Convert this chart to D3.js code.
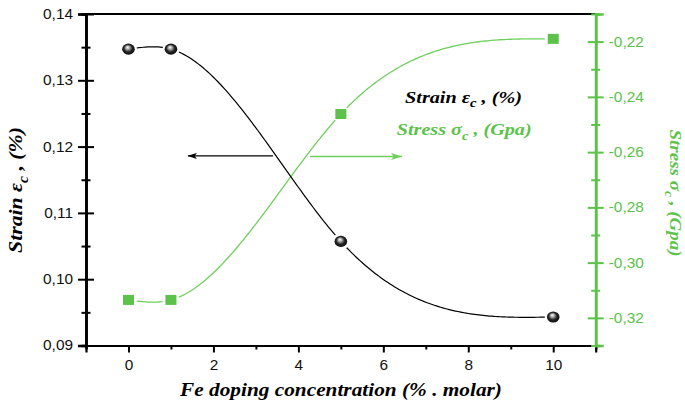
<!DOCTYPE html>
<html>
<head>
<meta charset="utf-8">
<script src="https://cdn.jsdelivr.net/npm/d3@7"></script>
<style>
  html, body { margin: 0; padding: 0; background: #fff; }
  svg { display: block; }
</style>
</head>
<body>
<svg id="chart" width="685" height="403"></svg>
<script>
// Fe doping level (% molar) and the measured strain / stress at each level
const dopingLevels = [0, 1, 5, 10];
const strainValues = [0.1347, 0.1347, 0.1057, 0.0943];
const stressValues = [-0.3135, -0.3135, -0.2462, -0.2190];

// Tick positions
const xMajorTicks = [0, 2, 4, 6, 8, 10];
const xMinorTicks = [-1, 1, 3, 5, 7, 9, 11];
const strainMajorTicks = [0.09, 0.10, 0.11, 0.12, 0.13, 0.14];
const strainMinorTicks = [0.095, 0.105, 0.115, 0.125, 0.135];
const stressMajorTicks = [-0.32, -0.30, -0.28, -0.26, -0.24, -0.22];
const stressMinorTicks = [-0.33, -0.31, -0.29, -0.27, -0.25, -0.23, -0.21];

// Direction arrows: [fromX, toX, level on the strain scale]
const strainArrow = [3.40, 1.40, 0.1186];
const stressArrow = [4.27, 6.44, 0.1185];

const GREEN = "#5cc24a";
const GREEN_LIGHT = "#6fcf5c";

const svg = d3.select("#chart");
const plot = { left: 86, right: 595.7, top: 14, bottom: 345.5 };

const x = d3.scaleLinear().domain([-1, 11]).range([plot.left, plot.right]);
const yL = d3.scaleLinear().domain([0.09, 0.14]).range([plot.bottom, plot.top]);
const yR = d3.scaleLinear().domain([-0.33, -0.21]).range([plot.bottom, plot.top]);

const comma = f => v => d3.format(f)(v).replace(".", ",").replace("−", "-");

// Natural cubic spline y(x) through the given knots
function naturalSpline(xs, ys) {
  const n = xs.length;
  const h = d3.range(n - 1).map(i => xs[i + 1] - xs[i]);
  const M = new Array(n).fill(0);
  const m = n - 2;
  if (m > 0) {
    const a = [], b = [], c = [], d = [];
    for (let i = 1; i <= m; i++) {
      a.push(h[i - 1]);
      b.push(2 * (h[i - 1] + h[i]));
      c.push(h[i]);
      d.push(6 * ((ys[i + 1] - ys[i]) / h[i] - (ys[i] - ys[i - 1]) / h[i - 1]));
    }
    for (let i = 1; i < m; i++) {
      const w = a[i] / b[i - 1];
      b[i] -= w * c[i - 1];
      d[i] -= w * d[i - 1];
    }
    const sol = new Array(m);
    sol[m - 1] = d[m - 1] / b[m - 1];
    for (let i = m - 2; i >= 0; i--) sol[i] = (d[i] - c[i] * sol[i + 1]) / b[i];
    for (let i = 0; i < m; i++) M[i + 1] = sol[i];
  }
  return function (t) {
    let i = 0;
    while (i < n - 2 && t > xs[i + 1]) i++;
    const hi = h[i], A = xs[i + 1] - t, B = t - xs[i];
    return M[i] * A * A * A / (6 * hi) + M[i + 1] * B * B * B / (6 * hi)
      + (ys[i] / hi - M[i] * hi / 6) * A + (ys[i + 1] / hi - M[i + 1] * hi / 6) * B;
  };
}

const defs = svg.append("defs");

// shaded sphere for the strain markers
const grad = defs.append("radialGradient").attr("id", "sphere")
  .attr("cx", "0.5").attr("cy", "0.5").attr("r", "0.6")
  .attr("fx", "0.42").attr("fy", "0.32");
grad.append("stop").attr("offset", "0%").attr("stop-color", "#ffffff");
grad.append("stop").attr("offset", "22%").attr("stop-color", "#b8b8b8");
grad.append("stop").attr("offset", "55%").attr("stop-color", "#262626");
grad.append("stop").attr("offset", "100%").attr("stop-color", "#000000");

// masks leave a small gap in the curves around each marker
function gapMask(id, values, scale) {
  const mk = defs.append("mask").attr("id", id).attr("maskUnits", "userSpaceOnUse")
    .attr("x", 0).attr("y", 0).attr("width", 685).attr("height", 403);
  mk.append("rect").attr("width", 685).attr("height", 403).attr("fill", "#fff");
  mk.selectAll("circle").data(dopingLevels).join("circle")
    .attr("cx", d => x(d)).attr("cy", (d, i) => scale(values[i]))
    .attr("r", 8.5).attr("fill", "#000");
}
gapMask("gapStrain", strainValues, yL);
gapMask("gapStress", stressValues, yR);

// arrow heads
function arrowHead(id, color, len, wid) {
  defs.append("marker").attr("id", id)
    .attr("viewBox", `0 0 ${len} ${wid}`)
    .attr("refX", len).attr("refY", wid / 2)
    .attr("markerWidth", len).attr("markerHeight", wid)
    .attr("markerUnits", "userSpaceOnUse")
    .attr("orient", "auto")
    .append("path").attr("d", `M0,0L${len},${wid / 2}L0,${wid}L${len * 0.25},${wid / 2}Z`)
    .attr("fill", color);
}
arrowHead("headBlack", "#000", 9, 6);
arrowHead("headGreen", GREEN_LIGHT, 11, 7);

// ---- curves ----
const samples = d3.range(0, 10.0001, 0.05);
const strainFn = naturalSpline(dopingLevels, strainValues);
const stressFn = naturalSpline(dopingLevels, stressValues);

svg.append("path")
  .attr("d", d3.line().x(t => x(t)).y(t => yR(stressFn(t)))(samples))
  .attr("fill", "none").attr("stroke", GREEN_LIGHT).attr("stroke-width", 1.3)
  .attr("mask", "url(#gapStress)");

svg.append("path")
  .attr("d", d3.line().x(t => x(t)).y(t => yL(strainFn(t)))(samples))
  .attr("fill", "none").attr("stroke", "#000").attr("stroke-width", 1.2)
  .attr("mask", "url(#gapStrain)");

// ---- arrows ----
svg.append("line")
  .attr("x1", x(strainArrow[0])).attr("x2", x(strainArrow[1]))
  .attr("y1", yL(strainArrow[2])).attr("y2", yL(strainArrow[2]))
  .attr("stroke", "#000").attr("stroke-width", 1.2)
  .attr("marker-end", "url(#headBlack)");
svg.append("line")
  .attr("x1", x(stressArrow[0])).attr("x2", x(stressArrow[1]))
  .attr("y1", yL(stressArrow[2])).attr("y2", yL(stressArrow[2]))
  .attr("stroke", GREEN_LIGHT).attr("stroke-width", 1.6)
  .attr("marker-end", "url(#headGreen)");

// ---- markers ----
svg.append("g").selectAll("rect").data(dopingLevels).join("rect")
  .attr("x", d => x(d) - 5.5).attr("y", (d, i) => yR(stressValues[i]) - 5)
  .attr("width", 11).attr("height", 10).attr("fill", GREEN);

svg.append("g").selectAll("ellipse").data(dopingLevels).join("ellipse")
  .attr("cx", d => x(d)).attr("cy", (d, i) => yL(strainValues[i]))
  .attr("rx", 6.3).attr("ry", 5.6).attr("fill", "url(#sphere)");

// ---- axes ----
const tickFont = "'Liberation Sans', Arial, sans-serif";

function styleAxis(g, color, width) {
  g.select(".domain").attr("stroke", color).attr("stroke-width", width);
  g.selectAll(".tick line").attr("stroke", color).attr("stroke-width", 2);
  g.selectAll(".tick text").attr("fill", color === "#000" ? "#111" : color)
    .attr("font-family", tickFont).attr("font-size", 14);
}

// top border
svg.append("line").attr("x1", plot.left).attr("x2", plot.right)
  .attr("y1", plot.top).attr("y2", plot.top)
  .attr("stroke", "#000").attr("stroke-width", 2.2);

// bottom axis (ticks outward)
const gx = svg.append("g").attr("transform", `translate(0,${plot.bottom})`);
gx.append("g").call(d3.axisBottom(x).tickValues(xMinorTicks).tickSize(4).tickFormat(""))
  .call(g => styleAxis(g, "#000", 2.2));
gx.append("g").call(d3.axisBottom(x).tickValues(xMajorTicks).tickSize(7).tickPadding(6).tickFormat(d3.format("d")))
  .call(g => styleAxis(g, "#000", 2.2))
  .call(g => g.selectAll(".tick text").attr("dy", "0.85em"));

// left axis (ticks cross the line)
const gl = svg.append("g").attr("transform", `translate(${plot.left},0)`);
gl.append("g").call(d3.axisLeft(yL).tickValues(strainMinorTicks).tickSize(4.5).tickFormat(""))
  .call(g => styleAxis(g, "#000", 2.6))
  .call(g => g.selectAll(".tick line").attr("x2", 4.5).attr("x1", -4.5));
gl.append("g").call(d3.axisLeft(yL).tickValues(strainMajorTicks).tickSize(8).tickPadding(5).tickFormat(comma(".2f")))
  .call(g => styleAxis(g, "#000", 2.6))
  .call(g => g.selectAll(".tick line").attr("x2", 8).attr("x1", -8));

// right axis (green, ticks cross the line)
const gr = svg.append("g").attr("transform", `translate(${plot.right},0)`);
gr.append("g").call(d3.axisRight(yR).tickValues(stressMinorTicks).tickSize(4.5).tickFormat(""))
  .call(g => styleAxis(g, GREEN, 2.6))
  .call(g => g.selectAll(".tick line").attr("x1", -4.5).attr("x2", 4.5));
gr.append("g").call(d3.axisRight(yR).tickValues(stressMajorTicks).tickSize(8).tickPadding(5).tickFormat(comma(".2f")))
  .call(g => styleAxis(g, GREEN, 2.6))
  .call(g => g.selectAll(".tick line").attr("x1", -8).attr("x2", 8));

// tick labels are drawn slightly wide
svg.selectAll(".tick text").each(function () {
  const w = this.getComputedTextLength();
  this.setAttribute("textLength", w * 1.1);
  this.setAttribute("lengthAdjust", "spacingAndGlyphs");
});

// ---- titles and legend ----
const serif = "'Liberation Serif', 'Times New Roman', serif";

// builds a label "main ε/σ + subscript c + tail", scaled to a target length
function richLabel(parts, opts) {
  const g = svg.append("g");
  const t = g.append("text")
    .attr("font-family", serif).attr("font-weight", "bold").attr("font-style", "italic")
    .attr("font-size", opts.size).attr("fill", opts.color).attr("text-anchor", "middle");
  parts.forEach(p => {
    const s = t.append("tspan").text(p.text);
    if (p.sub) s.attr("font-size", opts.size * 0.72).attr("dy", opts.size * 0.3);
    if (p.up) s.attr("dy", -opts.size * 0.3);
  });
  const w = t.node().getComputedTextLength();
  const k = opts.length / w;
  g.attr("transform", `translate(${opts.cx},${opts.cy}) rotate(${opts.rotate || 0}) scale(${k},${opts.thick || 1})`);
  return g;
}

richLabel([{ text: "Fe doping concentration (% . molar)" }],
  { size: 18, color: "#000", cx: 341, cy: 396, length: 322, thick: 1 });

richLabel([{ text: "Strain ε" }, { text: "c", sub: true }, { text: " , (%)", up: true }],
  { size: 17, color: "#000", cx: 22, cy: 190, rotate: -90, length: 126, thick: 1.12 });

richLabel([{ text: "Stress σ" }, { text: "c", sub: true }, { text: " , (Gpa)", up: true }],
  { size: 16, color: GREEN, cx: 670, cy: 193, rotate: 90, length: 127, thick: 1.0 });

richLabel([{ text: "Strain ε" }, { text: "c", sub: true }, { text: " , (%)", up: true }],
  { size: 16, color: "#000", cx: 463.5, cy: 102.5, length: 117 });

richLabel([{ text: "Stress σ" }, { text: "c", sub: true }, { text: " , (Gpa)", up: true }],
  { size: 16, color: GREEN, cx: 464.2, cy: 135, length: 135 });
</script>
</body>
</html>
